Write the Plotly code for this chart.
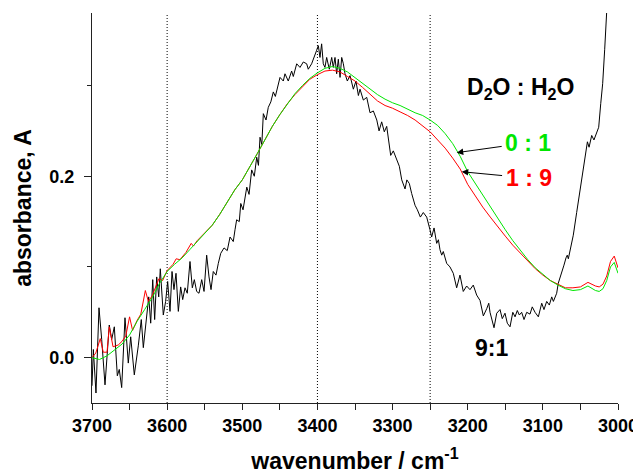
import plotly.graph_objects as go

# ---------------- data ----------------
green_wn = [3700, 3690, 3680, 3670, 3660, 3650, 3640, 3630, 3620, 3610, 3600, 3590, 3580, 3570, 3560,
            3550, 3540, 3530, 3520, 3510, 3500, 3490, 3480, 3470, 3460, 3450, 3440, 3430, 3420, 3410,
            3400, 3390, 3380, 3370, 3360, 3350, 3340, 3330, 3320, 3310, 3300, 3290, 3280, 3270, 3260,
            3250, 3240, 3230, 3220, 3210, 3200, 3190, 3180, 3170, 3160, 3150, 3140, 3130, 3120, 3110,
            3100, 3090, 3080, 3070, 3060, 3050, 3040, 3030, 3025, 3020, 3015, 3010, 3005, 3000]
green_A = [0.000, -0.002, 0.002, 0.009, 0.015, 0.025, 0.040, 0.053, 0.066, 0.082, 0.095, 0.103, 0.110, 0.119, 0.128,
           0.137, 0.146, 0.158, 0.171, 0.185, 0.196, 0.210, 0.225, 0.240, 0.255, 0.268, 0.280, 0.291, 0.300, 0.308,
           0.314, 0.319, 0.321, 0.319, 0.315, 0.309, 0.303, 0.297, 0.290, 0.285, 0.281, 0.278, 0.274, 0.270, 0.267,
           0.262, 0.256, 0.247, 0.236, 0.222, 0.205, 0.192, 0.179, 0.166, 0.153, 0.141, 0.129, 0.118, 0.108, 0.099,
           0.092, 0.085, 0.080, 0.076, 0.074, 0.075, 0.079, 0.074, 0.073, 0.076, 0.085, 0.100, 0.105, 0.093]

red_wn = [3700, 3695, 3689, 3685, 3680, 3677, 3672, 3665, 3660, 3655, 3650, 3646, 3640, 3635, 3629, 3625,
          3620, 3615, 3611, 3606, 3600, 3592, 3588, 3583, 3575, 3568, 3565, 3560, 3550, 3540, 3530, 3520,
          3510, 3500, 3490, 3480, 3470, 3460, 3450, 3440, 3430, 3420, 3410, 3400, 3390, 3380, 3370, 3360,
          3350, 3340, 3330, 3320, 3310, 3300, 3290, 3280, 3270, 3260, 3250, 3240, 3230, 3220, 3210, 3200,
          3190, 3180, 3170, 3160, 3150, 3140, 3130, 3120, 3110, 3100, 3090, 3080, 3070, 3060, 3050, 3040,
          3030, 3025, 3020, 3015, 3010, 3005, 3000]
red_A = [0.000, 0.005, 0.021, 0.006, 0.006, 0.034, 0.012, 0.014, 0.018, 0.024, 0.045, 0.030, 0.041, 0.048, 0.074, 0.062,
         0.068, 0.078, 0.087, 0.085, 0.096, 0.103, 0.109, 0.108, 0.116, 0.126, 0.123, 0.129, 0.137, 0.146, 0.158, 0.171,
         0.185, 0.196, 0.210, 0.225, 0.240, 0.255, 0.268, 0.280, 0.290, 0.299, 0.307, 0.312, 0.316, 0.317, 0.315, 0.310,
         0.305, 0.298, 0.290, 0.283, 0.278, 0.275, 0.271, 0.267, 0.262, 0.256, 0.249, 0.240, 0.231, 0.220, 0.208, 0.191,
         0.178, 0.166, 0.155, 0.144, 0.134, 0.124, 0.115, 0.106, 0.098, 0.091, 0.085, 0.081, 0.077, 0.077, 0.078, 0.083,
         0.079, 0.078, 0.081, 0.090, 0.106, 0.112, 0.099]

black_wn = [3700, 3698.2, 3694.7, 3690.7, 3687.1, 3682.7, 3677, 3673.8, 3670.3, 3666.3, 3663.7, 3660.5, 3656.1,
            3651.7, 3648.5, 3643.7, 3638.4, 3634.4, 3631.7, 3627.2, 3624.5, 3621.9, 3619.2, 3616.6, 3613.9,
            3611.2, 3609.1, 3605.1, 3602, 3599.3, 3596.2, 3593.5, 3590.9, 3588.2, 3585.1, 3582, 3579.3, 3576.2,
            3573.2, 3569.6, 3566.5, 3563.8, 3560.7, 3557.6, 3554, 3550.9, 3547.4, 3544.3, 3541.6, 3538.6, 3535,
            3531.9, 3528.7, 3524.3, 3520, 3516.3, 3512, 3509.7, 3507.5, 3504, 3502, 3499, 3494, 3491, 3487.5,
            3484, 3480.8, 3478.5, 3476.4, 3474, 3472, 3468.4, 3465.4, 3462, 3458.7, 3456, 3452, 3449.8, 3445.4,
            3443.2, 3438.8, 3434.3, 3432.1, 3427.6, 3423.2, 3418.8, 3414.3, 3412.2, 3407.7, 3403.2, 3401, 3398.8,
            3396.6, 3394.4, 3392.2, 3390, 3387.7, 3384.2, 3381, 3378.9, 3376.6, 3374.4, 3372.2, 3369.9, 3367.7,
            3365.5, 3363.3, 3360.2, 3356.6, 3352.2, 3348.7, 3345.5, 3343.3, 3338.9, 3334.4, 3330, 3325.6, 3321,
            3318, 3314.5, 3311, 3307.8, 3305, 3302.5, 3299, 3294.5, 3291, 3287.8, 3283.4, 3281, 3277.7, 3274.6,
            3270.1, 3267, 3265.7, 3263, 3259.1, 3254.6, 3250.2, 3248, 3244.8, 3241.3, 3239, 3236.9, 3234.6,
            3232.5, 3228, 3223.6, 3219.2, 3214.7, 3210.3, 3205.9, 3201.4, 3197, 3192.6, 3188.1, 3183.6, 3179.2,
            3174.7, 3172, 3170.3, 3168, 3165, 3161.4, 3157, 3154, 3150.4, 3147.3, 3143.7, 3140, 3137, 3134,
            3131.3, 3128.2, 3125.1, 3121.5, 3117.1, 3114.1, 3110.4, 3106, 3101.5, 3098.5, 3094.9, 3091.4, 3088.2,
            3086, 3081.6, 3079.5, 3075, 3071.9, 3069.2, 3067.5, 3066.1, 3063, 3059.5, 3055, 3050.5, 3046, 3042.5,
            3040.7, 3038.5, 3035, 3032, 3028.3, 3025.7, 3023, 3020.4, 3017.7, 3015, 3012, 3010]
black_A = [-0.031, 0.009, -0.039, 0.055, 0.020, -0.030, 0.036, 0.020, 0.034, -0.020, -0.013, -0.033, 0.044,
           -0.006, 0.023, -0.019, 0.013, 0.042, 0.011, 0.047, 0.067, 0.038, 0.086, 0.042, 0.089,
           0.067, 0.098, 0.047, 0.062, 0.084, 0.051, 0.095, 0.075, 0.093, 0.051, 0.078, 0.064, 0.077,
           0.071, 0.106, 0.077, 0.086, 0.073, 0.071, 0.086, 0.073, 0.113, 0.089, 0.075, 0.095, 0.091,
           0.104, 0.115, 0.121, 0.118, 0.133, 0.128, 0.141, 0.152, 0.150, 0.170, 0.163, 0.188, 0.180, 0.207,
           0.200, 0.221, 0.212, 0.243, 0.235, 0.269, 0.262, 0.276, 0.282, 0.293, 0.288, 0.300, 0.309, 0.305,
           0.313, 0.305, 0.316, 0.310, 0.324, 0.320, 0.326, 0.324, 0.318, 0.324, 0.333, 0.339, 0.344,
           0.331, 0.346, 0.324, 0.320, 0.331, 0.318, 0.331, 0.320, 0.331, 0.313, 0.329, 0.309, 0.331,
           0.324, 0.313, 0.305, 0.311, 0.296, 0.305, 0.289, 0.296, 0.284, 0.287, 0.270, 0.272, 0.262,
           0.250, 0.260, 0.249, 0.255, 0.240, 0.223, 0.228, 0.218, 0.211, 0.196, 0.186, 0.196, 0.192, 0.181,
           0.168, 0.163, 0.160, 0.155, 0.160, 0.155, 0.141, 0.133, 0.143, 0.126, 0.130, 0.119, 0.113,
           0.117, 0.104, 0.100, 0.093, 0.077, 0.091, 0.073, 0.079, 0.075, 0.080, 0.069, 0.063, 0.046,
           0.054, 0.060, 0.050, 0.042, 0.033, 0.049, 0.053, 0.043, 0.049, 0.038, 0.034, 0.050, 0.045, 0.052,
           0.047, 0.050, 0.042, 0.050, 0.048, 0.056, 0.050, 0.045, 0.060, 0.053, 0.062, 0.058, 0.067,
           0.062, 0.071, 0.082, 0.093, 0.102, 0.110, 0.113, 0.109, 0.121, 0.135, 0.160, 0.185, 0.214, 0.233,
           0.238, 0.232, 0.245, 0.240, 0.248, 0.254, 0.280, 0.302, 0.340, 0.378, 0.420, 0.460]

guide_wn = [3600, 3400, 3250]
x_ticks = [3700, 3600, 3500, 3400, 3300, 3200, 3100, 3000]
y_ticks = [0.0, 0.2]
y_tick_labels = ["0.0", "0.2"]

FONT = "Liberation Sans, Arial, Helvetica, sans-serif"
GREEN = "#00e600"
RED = "#ff0000"

fig = go.Figure()

for wn in guide_wn:
    fig.add_shape(type="line", xref="x", yref="paper", x0=wn, x1=wn, y0=0, y1=1,
                  line=dict(color="black", width=1, dash="1px,2px"), layer="below")

fig.add_trace(go.Scatter(x=black_wn, y=black_A, mode="lines", name="9:1",
                         line=dict(color="black", width=1)))
fig.add_trace(go.Scatter(x=red_wn, y=red_A, mode="lines", name="1:9",
                         line=dict(color=RED, width=1)))
fig.add_trace(go.Scatter(x=green_wn, y=green_A, mode="lines", name="0:1",
                         line=dict(color=GREEN, width=1)))

ann_font = dict(family=FONT, size=23, weight="bold")
fig.add_annotation(x=3130, y=0.297, xref="x", yref="y", showarrow=False,
                   text="D<sub>2</sub>O : H<sub>2</sub>O", font=dict(ann_font, color="black"))
fig.add_annotation(x=3168, y=0.011, xref="x", yref="y", showarrow=False,
                   text="9:1", font=dict(ann_font, color="black"))
# labels with arrows: text box at (ax, ay), arrow tip on the curve at (x, y)
fig.add_annotation(x=3214.6, y=0.226, ax=3119.5, ay=0.237, xref="x", yref="y", axref="x", ayref="y",
                   text="0 : 1", font=dict(ann_font, color=GREEN), borderpad=3,
                   showarrow=True, arrowhead=2, arrowsize=1.3, arrowwidth=1, arrowcolor="black")
fig.add_annotation(x=3208, y=0.205, ax=3119, ay=0.198, xref="x", yref="y", axref="x", ayref="y",
                   text="1 : 9", font=dict(ann_font, color=RED), borderpad=3,
                   showarrow=True, arrowhead=2, arrowsize=1.3, arrowwidth=1, arrowcolor="black")

tick_font = dict(family=FONT, size=18, color="black", weight="bold")
title_font = dict(family=FONT, size=23, color="black", weight="bold")

# The page body adds an 8 px offset, so the figure is 8 px smaller than the window.
fig.update_layout(
    width=633, height=466,
    margin=dict(l=84, r=23, t=5, b=71, autoexpand=False),
    paper_bgcolor="white", plot_bgcolor="white",
    showlegend=False,
    xaxis=dict(range=[3700, 3000], tickvals=x_ticks, showgrid=False, zeroline=False, automargin=False,
               showline=True, linecolor="#222", linewidth=1, ticks="outside", ticklen=6,
               tickcolor="#222", tickfont=tick_font,
               minor=dict(dtick=50, tick0=3000, ticks="outside", ticklen=6, tickcolor="#222", showgrid=False),
               title=dict(text="wavenumber / cm<sup>-1</sup>", font=title_font, standoff=19)),
    yaxis=dict(range=[-0.05, 0.38], tickvals=y_ticks, ticktext=y_tick_labels, showgrid=False,
               zeroline=False, showline=True, linecolor="#222", linewidth=1, ticks="outside", automargin=False,
               ticklen=7, tickcolor="#222", tickfont=tick_font, ticklabelstandoff=6,
               minor=dict(tickvals=[0.1, 0.3], ticks="outside", ticklen=4, tickcolor="#222", showgrid=False),
               title=dict(text="absorbance, A", font=title_font, standoff=11)),
)

fig.write_html("out.html")
